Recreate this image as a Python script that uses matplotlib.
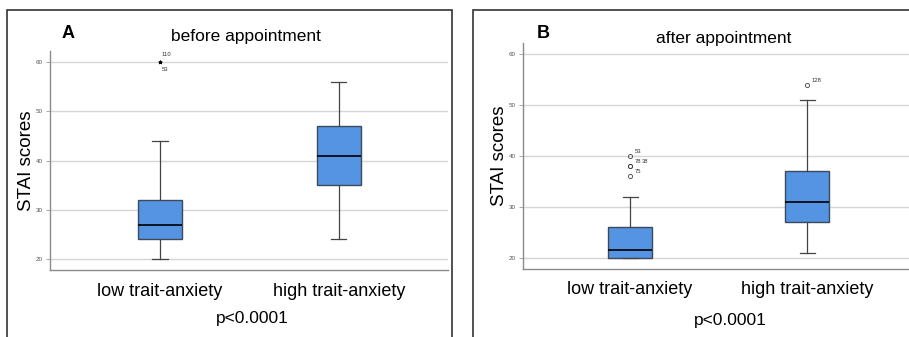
import matplotlib.pyplot as plt
from matplotlib.patches import Rectangle

plt.rcParams['font.family'] = ['Liberation Sans', 'DejaVu Sans']

# Daten
groups = ['low trait-anxiety', 'high trait-anxiety']

# vorher: [whislo, q1, med, q3, whishi]
before_low = [20, 24, 27, 32, 44]
before_high = [24, 35, 41, 47, 56]
before_fliers_low = [60, 60]
before_fliers_high = []
before_flier_ids_low = ['110', '53']
before_flier_ids_high = []

# nachher
after_low = [20, 20, 21.5, 26, 32]
after_high = [21, 27, 31, 37, 51]
after_fliers_low = [40, 38, 38, 36]
after_fliers_high = [54]
after_flier_ids_low = ['53', '78', '38', '75']
after_flier_ids_high = ['128']

box_color = '#5494e2'
edge_color = '#3c4a5c'
grid_color = '#d6d6d6'


def stats(vals, fliers):
    lo, q1, med, q3, hi = vals
    return dict(whislo=lo, q1=q1, med=med, q3=q3, whishi=hi, fliers=fliers)


def panel(ax, low, high, fl_low, fl_high, ids_low, ids_high, marker, xlim, ylab_x):
    ax.set_axisbelow(True)
    ax.yaxis.grid(True, color=grid_color, lw=1)
    st = [stats(low, fl_low), stats(high, fl_high)]
    ax.bxp(st, positions=[0, 1], widths=0.246, patch_artist=True,
           boxprops=dict(facecolor=box_color, edgecolor=edge_color, lw=1),
           medianprops=dict(color='black', lw=1.2),
           whiskerprops=dict(color='#444444', lw=0.9),
           capprops=dict(color='#444444', lw=0.9),
           capwidths=0.085,
           flierprops=dict(marker=marker, markersize=3 if marker == 'o' else 2.5,
                           markerfacecolor='none' if marker == 'o' else 'black',
                           markeredgecolor='#444444' if marker == 'o' else 'black',
                           markeredgewidth=0.6))
    # Fallnummern neben den Ausreissern
    for pos, fl, ids in [(0, fl_low, ids_low), (1, fl_high, ids_high)]:
        seen = {}
        for v, lab in zip(fl, ids):
            if v in seen:
                seen[v] += 1
            else:
                seen[v] = 0
            if marker == '*':
                dy = 1.5 if seen[v] == 0 else -1.6
                ax.text(pos + 0.01, v + dy, lab, fontsize=4.2, color='#333333',
                        ha='left', va='center')
            else:
                dx = 0.025 + seen[v] * 0.04
                ax.text(pos + dx, v + 0.9, lab, fontsize=4.2, color='#333333',
                        ha='left', va='center')
    ax.set_xlim(*xlim)
    ax.set_ylim(17.8, 62.2)
    ax.set_yticks([20, 30, 40, 50, 60])
    ax.tick_params(axis='y', labelsize=4.5, labelcolor='#555555', length=3,
                   color='#999999', width=0.6, pad=2)
    ax.set_xticks([0, 1])
    ax.set_xticklabels(groups, fontsize=13)
    ax.tick_params(axis='x', length=0, pad=9)
    for s in ['top', 'right']:
        ax.spines[s].set_visible(False)
    for s in ['left', 'bottom']:
        ax.spines[s].set_color('#8a8a8a')
        ax.spines[s].set_linewidth(1)
    ax.set_ylabel('STAI scores', fontsize=13.5)
    ax.yaxis.set_label_coords(ylab_x, 0.5)


fig = plt.figure(figsize=(9.09, 3.37), dpi=100)
W, H = 909, 337


def fx(x):
    return x / W


def fy(y):
    return 1 - y / H


axA = fig.add_axes([fx(50), fy(270), fx(448 - 50), fy(51) - fy(270)])
panel(axA, before_low, before_high, before_fliers_low, before_fliers_high,
      before_flier_ids_low, before_flier_ids_high, '*', (-0.615, 1.61), -0.037)

axB = fig.add_axes([fx(523), fy(269), fx(909 - 523), fy(43) - fy(269)])
panel(axB, after_low, after_high, after_fliers_low, after_fliers_high,
      after_flier_ids_low, after_flier_ids_high, 'o', (-0.605, 1.576), -0.04)

# Rahmen um die Panels
fig.patches.append(Rectangle((fx(7), fy(345)), fx(452 - 7), fy(10) - fy(345),
                             transform=fig.transFigure, fill=False,
                             edgecolor='#333333', lw=1.2))
fig.patches.append(Rectangle((fx(473), fy(345)), fx(920 - 473), fy(10) - fy(345),
                             transform=fig.transFigure, fill=False,
                             edgecolor='#333333', lw=1.2))

fig.text(fx(68), fy(33), 'A', fontsize=13, fontweight='bold', ha='center', va='center')
fig.text(fx(246), fy(37), 'before appointment', fontsize=12.5, ha='center', va='center')
fig.text(fx(252), fy(318), 'p<0.0001', fontsize=12.5, ha='center', va='center')

fig.text(fx(543), fy(33), 'B', fontsize=13, fontweight='bold', ha='center', va='center')
fig.text(fx(724), fy(38), 'after appointment', fontsize=12.5, ha='center', va='center')
fig.text(fx(730), fy(320), 'p<0.0001', fontsize=12.5, ha='center', va='center')

fig.savefig('out.png', dpi=100)
